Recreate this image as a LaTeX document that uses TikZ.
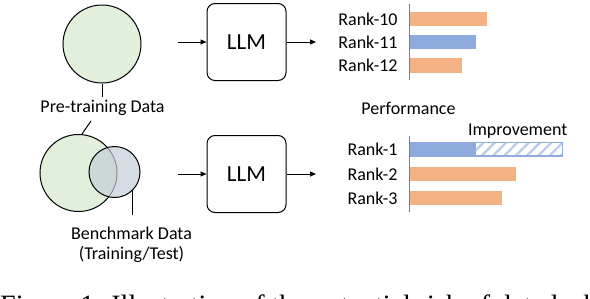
\documentclass[tikz,border=0pt]{standalone}
\usepackage{fontspec}
\setmainfont{Carlito}
\newfontfamily\capfont{Liberation Serif}
\usetikzlibrary{patterns.meta,arrows.meta}
\definecolor{pregreen}{HTML}{E2EFDA}
\definecolor{benchblue}{HTML}{C3CDD8}
\definecolor{barorange}{HTML}{F4B183}
\definecolor{barblue}{HTML}{8FAADC}
\definecolor{hatchblue}{HTML}{BCCDEB}
\definecolor{axisgray}{HTML}{7F7F7F}
\tikzset{
  lbl/.style={font=\fontsize{18}{20}\selectfont, inner sep=0pt},
  llmbox/.style={draw, line width=1pt, rounded corners=8pt, minimum width=79pt, minimum height=77pt, inner sep=0pt, font=\fontsize{23}{25}\selectfont},
  flow/.style={line width=1pt, -{Triangle[length=6pt,width=5pt]}},
  leader/.style={line width=1pt},
  axis/.style={draw=axisgray, line width=1.5pt},
  orangebar/.style={fill=barorange},
  bluebar/.style={fill=barblue},
}
\begin{document}
\begin{tikzpicture}[x=1pt,y=-1pt]
\clip (0,0) rectangle (590,298);
\useasboundingbox (0,0) rectangle (590,298);
% ---- top row ----
\node[circle, draw, line width=1pt, fill=pregreen, minimum size=78pt, inner sep=0pt] (pre1) at (102,44) {};
\node[lbl] (pretxt) at (102.5,108) {Pre-training Data};
\coordinate (lead1) at (102,97);
\draw[leader] (pre1.south) -- (lead1);
\node[llmbox] (llm1) at (246.5,42) {LLM};
\coordinate (in1) at (178,42);
\coordinate (out1) at (316,42);
\draw[flow] (in1) -- (llm1.west);
\draw[flow] (llm1.east) -- (out1);
% bars top
\coordinate (ax1t) at (409.7,4);
\coordinate (ax1b) at (409.7,80);
\fill[orangebar] (410,11.7) rectangle (486.7,25.7);
\fill[bluebar] (410,35) rectangle (475.7,49.3);
\fill[orangebar] (410,58.3) rectangle (462,72.7);
\draw[axis] (ax1t) -- (ax1b);
\node[lbl, anchor=east] (r10) at (397.7,19) {Rank-10};
\node[lbl, anchor=east] (r11) at (397.7,42.5) {Rank-11};
\node[lbl, anchor=east] (r12) at (397.7,65.5) {Rank-12};
\node[lbl] (perf) at (408.5,108) {Performance};
% ---- bottom row ----
\node[circle, draw, line width=1pt, fill=pregreen, minimum size=77pt, inner sep=0pt] (pre2) at (78.5,173) {};
\node[circle, draw, line width=1pt, fill=benchblue, fill opacity=0.7, minimum size=51pt, inner sep=0pt] (bench) at (114.5,172) {};
\coordinate (lead2) at (91,121);
\draw[leader] (pre2.85) -- (lead2);
\coordinate (bl) at (132.3,215);
\draw[leader] (bench.-45) -- (bench.-45 |- bl);
\node[lbl, align=center] (benchtxt) at (131.5,245) {Benchmark Data\\(Training/Test)};
\node[llmbox] (llm2) at (246.5,174) {LLM};
\coordinate (in2) at (178,174);
\coordinate (out2) at (316,174);
\draw[flow] (in2) -- (llm2.west);
\draw[flow] (llm2.east) -- (out2);
% bars bottom
\coordinate (ax2t) at (409.7,136);
\coordinate (ax2b) at (409.7,211.7);
\fill[bluebar] (410,142.7) rectangle (475.7,156);
\path[pattern={Lines[angle=45,distance=8pt,line width=2.4pt]}, pattern color=hatchblue] (475.7,142.7) rectangle (562.3,156);
\draw[draw=barblue, line width=1.2pt] (410,142.7) rectangle (562.3,156);
\fill[orangebar] (410,166.7) rectangle (515.7,181);
\fill[orangebar] (410,191) rectangle (502.3,205);
\draw[axis] (ax2t) -- (ax2b);
\node[lbl, anchor=east] (r1) at (397.7,149.5) {Rank-1};
\node[lbl, anchor=east] (r2) at (397.7,174) {Rank-2};
\node[lbl, anchor=east] (r3) at (397.7,198.5) {Rank-3};
\node[lbl] (impr) at (517.7,131.5) {Improvement};
% caption (cut off by the lower edge, as in the reference)
\node[anchor=base west, inner sep=0pt, font=\capfont\fontsize{28}{30}\selectfont] (cap) at (0,314) {Figure 1: Illustration of the potential risk of data leakage.};
\end{tikzpicture}
\end{document}
